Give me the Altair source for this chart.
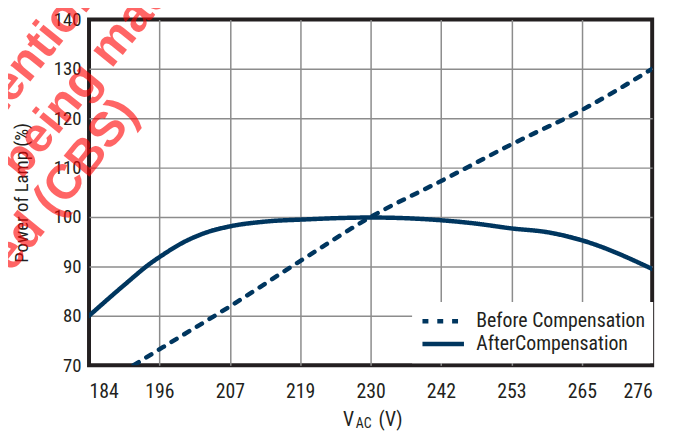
import altair as alt
import pandas as pd

# ---- data ----
x_ticks = [184, 195.5, 207, 218.5, 230, 241.5, 253, 264.5, 276]
y_ticks = [70, 80, 90, 100, 110, 120, 130, 140]

series_names = ["Before Compensation", "AfterCompensation"]

before_v = [191.3, 196, 207, 219, 230, 242, 253, 265, 276]
before_p = [70, 73.6, 81.9, 91.5, 100, 107.6, 114.7, 122, 130]

after_v = [184, 190, 194, 196, 199, 203, 207, 213, 219, 230, 242, 247, 253, 259, 265, 276]
after_p = [80, 86.5, 90.6, 92.3, 94.6, 96.8, 98.1, 99.1, 99.5, 99.9, 99.3, 98.7, 97.7, 96.9, 95.1, 89.5]

watermark_lines = ["Attention", "being made", "Required (CBS)"]

# ---- styles ----
NAVY = "#00365f"
TEXT = "#231f20"
GRID = "#8c8c8c"
FONT = "Roboto Condensed, Liberation Sans, Arial, sans-serif"
W, H = 570, 350

df = pd.concat([
    pd.DataFrame({"V": before_v, "P": before_p, "series": series_names[0]}),
    pd.DataFrame({"V": after_v, "P": after_p, "series": series_names[1]}),
], ignore_index=True)

lines = alt.Chart(df).mark_line(
    color=NAVY, strokeWidth=4.5, strokeCap="round", interpolate="monotone", clip=True
).encode(
    x=alt.X("V:Q",
            scale=alt.Scale(domain=[184, 276], nice=False, zero=False),
            axis=alt.Axis(values=x_ticks, format="d", title=None, grid=True,
                          gridColor=GRID, gridWidth=1.5,
                          gridOpacity=alt.condition("datum.value == 184 || datum.value == 276",
                                                    alt.value(0), alt.value(1)),
                          ticks=False, domain=False, labelPadding=17,
                          labelFont=FONT, labelFontSize=20, labelColor=TEXT)),
    y=alt.Y("P:Q",
            scale=alt.Scale(domain=[70, 140], nice=False, zero=False),
            axis=alt.Axis(values=y_ticks, title="Power of Lamp (%)", grid=True,
                          gridColor=GRID, gridWidth=1.5,
                          gridOpacity=alt.condition("datum.value == 70 || datum.value == 140",
                                                    alt.value(0), alt.value(1)),
                          ticks=False, domain=False, labelPadding=8,
                          labelFont=FONT, labelFontSize=19, labelColor=TEXT,
                          titleFont=FONT, titleFontSize=19, titleFontWeight="normal",
                          titleColor=TEXT, titleAngle=270, titleX=-68, titleY=H / 2,
                          titleAlign="center", titleBaseline="middle")),
    strokeDash=alt.StrokeDash(
        "series:N",
        scale=alt.Scale(domain=series_names, range=[[6, 9], [1, 0]]),
        legend=alt.Legend(orient="none", legendX=327, legendY=286, title=None,
                          fillColor="white", padding=8, symbolType="stroke",
                          symbolSize=1764, symbolStrokeWidth=4.5,
                          symbolStrokeColor=NAVY, labelFont=FONT, labelFontSize=20,
                          labelColor=TEXT, labelOffset=10, labelLimit=400,
                          clipHeight=23, rowPadding=0)),
)

# x-axis title with subscript
t_v = alt.Chart(pd.DataFrame({"t": ["V"]})).mark_text(
    font=FONT, fontSize=20, color=TEXT, align="left", baseline="alphabetic"
).encode(x=alt.value(257), y=alt.value(H + 61), text="t:N")
t_ac = alt.Chart(pd.DataFrame({"t": ["AC"]})).mark_text(
    font=FONT, fontSize=14, color=TEXT, align="left", baseline="alphabetic"
).encode(x=alt.value(270), y=alt.value(H + 64), text="t:N")
t_unit = alt.Chart(pd.DataFrame({"t": ["(V)"]})).mark_text(
    font=FONT, fontSize=20, color=TEXT, align="left", baseline="alphabetic"
).encode(x=alt.value(293), y=alt.value(H + 61), text="t:N")

# watermark
wm_pos = [(-133, 130), (-80, 153), (-188, 368)]
wm_layers = []
for txt, (px, py) in zip(watermark_lines, wm_pos):
    wm_layers.append(
        alt.Chart(pd.DataFrame({"t": [txt]})).mark_text(
            font="Liberation Sans, Arial, sans-serif", fontSize=49, fontWeight="bold",
            color="#ff0000", opacity=0.6, angle=309, align="left", baseline="middle"
        ).encode(x=alt.value(px), y=alt.value(py), text="t:N")
    )

chart = alt.layer(lines, t_v, t_ac, t_unit, *wm_layers).properties(
    width=W, height=H,
    autosize=alt.AutoSizeParams(type="none"),
    padding={"left": 82, "top": 9, "right": 15, "bottom": 65},
    background="white",
).configure_view(stroke=TEXT, strokeWidth=4)

chart.save("out.html", embed_options={"renderer": "svg", "actions": False})
